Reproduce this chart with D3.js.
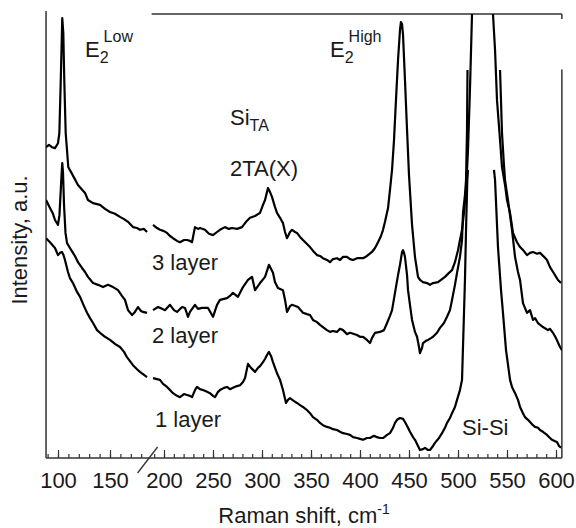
<!DOCTYPE html>
<html>
<head>
<meta charset="UTF-8">
<title>Raman spectra</title>
<script src="https://d3js.org/d3.v7.min.js"></script>
<style>
    body { margin: 0; background: #fff; }
    svg { display: block; font-family: "Liberation Sans", Arial, sans-serif; }
    .lbl { font-size: 22px; fill: #1a1a1a; }
    .small { font-size: 16px; fill: #1a1a1a; }
    .spec { fill: none; stroke: #000; stroke-width: 2.2; stroke-linejoin: round; }
    .tick text { font-size: 22px; fill: #1a1a1a; font-family: "Liberation Sans", Arial, sans-serif; }
    .tick line { stroke: #333; stroke-width: 1.2; }
</style>
</head>
<body>
<div id="chart"></div>
<script>
// [Raman shift cm-1, intensity a.u.] ; null = trace cut off
// part below the axis break
const spec3Low = [[88.5,70.0],[91.3,70.5],[94.2,70.0],[97.1,69.8],[100.0,70.9],[101.3,73.2],[102.6,84.5],[103.6,94.1],[104.1,99.1],[105.1,95.7],[106.1,84.5],[107.4,73.2],[109.9,65.5],[113.5,64.0],[119.2,61.5],[126.0,59.7],[128.8,58.1],[133.7,57.4],[140.4,57.0],[145.2,56.1],[150.0,55.4],[154.8,55.0],[159.6,54.3],[163.5,53.8],[167.3,53.2],[172.1,52.0],[176.0,51.8],[178.8,51.4],[182.7,51.6],[185.6,50.9]];
const spec2Low = [[88.5,58.1],[92.3,56.3],[95.2,55.0],[97.1,53.6],[100.0,52.5],[101.4,54.7],[102.4,59.2],[103.4,63.7],[104.1,66.4],[104.8,64.4],[105.8,57.0],[107.2,50.7],[108.7,48.4],[111.5,47.3],[114.4,46.2],[116.3,45.5],[119.2,44.1],[123.1,42.8],[126.0,41.9],[128.8,40.8],[133.7,39.4],[138.5,39.0],[143.3,38.5],[148.1,39.0],[152.9,38.5],[157.7,37.8],[161.5,36.5],[164.4,35.6],[167.3,33.3],[171.2,32.2],[174.0,32.9],[176.9,34.0],[179.8,33.1],[181.7,32.9],[185.6,32.7]];
const spec1Low = [[88.5,49.5],[92.3,48.6],[97.1,47.3],[100.0,45.7],[101.9,46.2],[103.8,46.4],[105.3,45.7],[106.7,44.6],[109.6,41.9],[111.5,40.5],[114.4,39.4],[118.3,37.4],[121.2,36.3],[125.0,34.2],[127.9,32.7],[130.8,31.5],[133.7,30.4],[137.5,28.8],[140.4,28.2],[145.2,27.3],[150.0,26.6],[154.8,25.7],[159.6,25.0],[163.5,23.9],[166.3,22.7],[169.2,21.8],[172.1,20.9],[176.0,20.0],[178.8,19.4],[182.7,18.7],[185.6,18.2]];

// part above the axis break
const spec3High = [[188.8,52.5],[192.9,51.8],[195.9,51.4],[200.0,51.1],[203.1,50.7],[206.1,50.0],[209.2,49.5],[213.3,48.9],[216.3,48.6],[220.4,49.1],[223.5,49.1],[226.5,48.9],[228.6,48.6],[231.6,52.0],[234.7,51.6],[236.7,51.8],[241.8,51.4],[245.9,50.5],[250.0,50.2],[254.1,50.9],[257.1,51.4],[262.2,52.0],[266.3,51.6],[269.4,51.8],[274.5,51.6],[279.6,52.0],[283.7,53.2],[287.8,54.1],[292.9,54.5],[298.0,55.2],[301.0,57.0],[303.1,58.1],[306.1,60.8],[308.2,59.9],[310.2,58.8],[313.3,56.5],[315.3,55.2],[318.4,54.1],[321.4,52.9],[323.5,50.9],[325.5,49.5],[328.6,50.9],[330.6,51.4],[333.7,50.9],[335.7,50.7],[338.8,49.8],[341.8,49.1],[345.9,48.2],[349.0,47.5],[353.1,46.4],[356.1,45.7],[359.2,45.5],[362.2,45.0],[366.3,44.6],[369.4,44.1],[372.4,44.8],[376.5,45.0],[379.6,44.6],[382.7,45.3],[386.7,45.3],[389.8,44.8],[392.9,44.6],[397.0,45.0],[403.1,45.0],[407.1,45.5],[412.2,46.4],[415.3,47.3],[418.4,48.6],[421.4,50.0],[423.5,51.4],[425.5,53.2],[428.6,56.3],[430.6,60.4],[432.7,64.9],[434.7,71.6],[436.7,80.6],[438.8,89.6],[440.8,96.4],[441.8,98.2],[442.9,97.7],[443.9,95.3],[445.9,85.1],[448.0,73.9],[450.0,63.7],[453.1,52.5],[456.1,45.3],[459.2,40.8],[461.2,40.1],[464.3,39.6],[468.4,39.4],[471.4,39.0],[474.5,39.4],[479.6,39.6],[483.7,40.3],[486.7,40.8],[490.8,41.7],[493.9,42.3],[496.9,44.1],[500.0,46.8],[502.0,49.1],[504.1,51.4],[506.1,55.2],[508.2,60.4],[510.2,69.4],[512.2,82.9],[514.3,100.0],[515.3,110.0],[535.0,110.0],[535.7,100.0],[537.8,91.9],[539.8,80.6],[542.9,71.6],[544.9,65.5],[548.0,61.5],[550.0,58.1],[553.1,55.2],[556.1,50.7],[560.2,48.6],[563.3,47.5],[567.3,46.6],[570.4,45.7],[573.5,46.2],[576.5,46.4],[580.6,46.0],[583.7,46.2],[587.8,45.3],[590.8,44.6],[593.9,43.0],[597.0,41.9],[599.0,41.2],[602.0,40.1],[605.1,39.4]];
const spec2High = [[188.8,33.3],[193.9,34.0],[198.0,33.6],[201.0,33.3],[206.1,34.5],[210.2,33.3],[213.3,32.9],[218.4,34.0],[221.4,33.8],[224.5,31.8],[226.5,32.9],[231.6,34.5],[234.7,33.6],[238.8,33.8],[244.9,33.8],[250.0,31.8],[254.1,34.5],[257.1,35.6],[264.3,36.0],[267.3,36.5],[270.4,37.2],[275.5,36.3],[280.6,38.5],[285.7,40.1],[289.8,40.8],[292.9,37.8],[298.0,39.4],[303.1,40.8],[307.1,43.5],[311.2,41.7],[313.3,39.6],[316.3,38.3],[321.4,37.8],[323.5,35.6],[325.5,32.9],[328.6,34.2],[330.6,34.5],[336.7,34.0],[341.8,32.7],[345.9,32.4],[349.0,32.2],[352.0,31.1],[356.1,30.6],[359.2,30.0],[362.2,29.5],[366.3,28.8],[369.4,28.4],[372.4,28.6],[376.5,28.4],[379.6,29.1],[382.7,28.8],[386.7,27.9],[389.8,28.2],[396.9,27.7],[400.0,27.3],[403.1,27.3],[407.1,26.6],[410.2,25.9],[412.2,27.0],[415.3,28.2],[420.4,28.4],[424.5,28.8],[427.6,30.4],[430.6,32.0],[432.7,33.3],[435.7,37.2],[438.8,41.2],[440.8,43.5],[442.9,46.4],[443.9,46.8],[444.9,46.2],[445.9,45.3],[448.0,41.2],[449.0,37.8],[451.0,34.5],[453.1,31.1],[456.1,28.4],[458.2,27.3],[460.2,25.0],[461.2,23.6],[463.3,24.8],[464.3,25.9],[467.3,26.4],[469.4,26.6],[472.4,27.0],[474.5,27.3],[478.6,28.2],[481.6,29.3],[485.7,30.4],[488.8,31.8],[491.8,33.3],[493.9,35.6],[496.9,39.0],[499.0,41.7],[502.0,45.3],[504.1,49.1],[505.1,55.2],[507.1,59.2],[508.2,62.6],[509.2,73.9],[509.7,87.4],null,[542.9,87.4],[544.9,73.2],[546.9,66.0],[548.0,62.6],[551.0,58.1],[555.1,51.4],[558.2,45.3],[561.2,41.9],[563.3,40.1],[566.3,34.9],[570.4,32.7],[573.5,33.3],[576.5,31.1],[578.6,31.5],[581.6,30.4],[586.7,29.5],[591.8,28.8],[593.9,29.1],[596.9,28.2],[600.0,27.0],[604.1,25.0],[606.1,24.3]];
const spec1High = [[188.8,18.0],[195.9,17.6],[199.0,16.7],[203.1,16.0],[206.1,15.3],[209.2,14.6],[213.3,14.0],[216.3,13.7],[220.4,14.4],[223.5,14.2],[226.5,14.0],[228.6,13.7],[231.6,15.3],[233.7,16.0],[236.7,15.5],[239.8,15.3],[243.9,14.9],[246.9,14.6],[250.0,14.0],[252.0,13.7],[255.1,14.9],[257.1,15.3],[261.2,15.8],[264.3,16.0],[267.3,15.5],[270.4,15.8],[274.5,16.2],[277.6,16.4],[280.6,17.1],[282.7,18.0],[285.7,21.2],[288.8,20.3],[292.9,19.4],[295.9,20.3],[298.0,20.7],[301.0,21.6],[303.1,22.3],[305.1,23.2],[307.1,23.9],[309.2,23.0],[311.2,21.6],[313.3,20.3],[315.3,19.1],[318.4,17.6],[321.4,15.3],[324.5,12.4],[326.5,13.1],[328.6,13.5],[332.7,12.8],[335.7,12.4],[338.8,11.9],[341.8,11.5],[345.9,10.8],[349.0,10.1],[352.0,9.2],[356.1,8.6],[359.2,7.9],[362.2,7.4],[366.3,7.0],[369.4,6.8],[372.4,6.5],[376.5,6.3],[379.6,5.9],[382.7,5.6],[386.7,5.4],[389.8,5.2],[392.9,4.7],[396.9,4.5],[400.0,4.3],[403.1,4.1],[407.1,4.5],[410.2,4.5],[414.3,5.0],[417.3,4.7],[420.4,4.5],[423.5,4.5],[427.6,5.2],[430.6,5.6],[433.7,6.8],[435.7,7.9],[437.8,8.6],[440.8,9.0],[443.9,8.8],[445.9,8.1],[449.0,6.8],[451.0,5.9],[454.1,4.7],[456.1,4.1],[459.2,2.7],[461.2,1.8],[464.3,2.0],[466.3,2.3],[469.4,1.8],[471.4,1.8],[474.5,2.7],[476.5,3.4],[480.6,4.5],[483.7,5.6],[486.7,6.8],[488.8,7.9],[491.8,9.0],[493.9,10.1],[496.9,11.5],[499.0,13.1],[502.0,15.3],[504.1,17.6],[505.6,28.8],[507.1,40.1],[508.2,51.4],[509.5,62.6],[510.2,64.9],null,[536.7,64.9],[537.8,62.6],[540.8,47.5],[543.9,37.8],[545.9,32.7],[549.0,24.3],[553.1,17.6],[555.1,16.0],[558.2,14.6],[561.2,13.1],[563.3,11.5],[566.3,10.1],[568.4,9.2],[571.4,8.6],[573.5,8.1],[576.5,7.4],[578.6,7.0],[581.6,6.8],[583.7,6.3],[586.7,5.9],[590.8,5.2],[593.9,4.5],[596.0,4.1],[599.0,3.8],[601.0,3.6],[603.1,2.7],[605.1,2.3]];

const layers = ["3 layer", "2 layer", "1 layer"];
const lowTicks = [100, 150];
const highTicks = [200, 250, 300, 350, 400, 450, 500, 550, 600];

// size
const W = 576, H = 528;
const svg = d3.select("#chart").append("svg")
    .attr("width", W)
    .attr("height", H);

// two x scales, the axis is broken near 190 cm-1
const xLow = d3.scaleLinear().domain([100, 150]).range([58, 110]);
const xHigh = d3.scaleLinear().domain([200, 600]).range([164, 556]);
const y = d3.scaleLinear().domain([0, 100]).range([458, 14]);

const x0 = xLow(88.5), x1 = xHigh(606), yb = y(0), yt = y(100);

svg.append("clipPath").attr("id", "plot")
    .append("rect")
    .attr("x", x0).attr("y", yt)
    .attr("width", x1 - x0).attr("height", yb - yt);

// frame
const frame = svg.append("g").attr("stroke", "#333").attr("stroke-width", 1.5);
frame.append("line").attr("x1", x0).attr("x2", x0).attr("y1", yt - 3).attr("y2", yb);
frame.append("line").attr("x1", x0).attr("x2", x1).attr("y1", yb).attr("y2", yb);
frame.append("line").attr("x1", xLow(190)).attr("x2", x1).attr("y1", yt).attr("y2", yt);
frame.append("line").attr("x1", x1).attr("x2", x1).attr("y1", yt).attr("y2", yt + 5);
frame.append("line").attr("x1", x1).attr("x2", x1).attr("y1", y(87.5)).attr("y2", yb);

// ticks (point inwards)
function tickAxis(scale, minor, major) {
    svg.append("g")
        .attr("transform", `translate(0,${yb})`)
        .call(d3.axisBottom(scale).tickValues(minor).tickSize(-4).tickFormat(""))
        .call(g => g.select(".domain").remove());
    svg.append("g")
        .attr("transform", `translate(0,${yb})`)
        .call(d3.axisBottom(scale).tickValues(major).tickSize(-8).tickPadding(14))
        .call(g => g.select(".domain").remove());
}
tickAxis(xLow, d3.range(90, 181, 10), lowTicks);
tickAxis(xHigh, d3.range(190, 601, 10), highTicks);

// break mark
svg.append("line")
    .attr("x1", xLow(190) - 14).attr("y1", yb + 15)
    .attr("x2", xLow(190) + 6).attr("y2", yb - 11)
    .attr("stroke", "#333").attr("stroke-width", 1.3);

// spectra
const lineLow = d3.line().defined(d => d).x(d => xLow(d[0])).y(d => y(d[1]));
const lineHigh = d3.line().defined(d => d).x(d => xHigh(d[0])).y(d => y(d[1]));
const g = svg.append("g").attr("clip-path", "url(#plot)");
[spec3Low, spec2Low, spec1Low].forEach(s => g.append("path").attr("class", "spec").attr("d", lineLow(s)));
[spec3High, spec2High, spec1High].forEach(s => g.append("path").attr("class", "spec").attr("d", lineHigh(s)));

// axis titles
svg.append("text").attr("class", "lbl")
    .attr("x", 304).attr("y", 523)
    .attr("text-anchor", "middle")
    .html('Raman shift, cm<tspan font-size="14" dy="-9">-1</tspan>');

svg.append("text").attr("class", "lbl")
    .attr("transform", "translate(27,240) rotate(-90)")
    .attr("text-anchor", "middle")
    .text("Intensity, a.u.");

// peak labels
function peak(xp, yp, main, sub, sup) {
    const t = svg.append("text").attr("class", "lbl").attr("x", xp).attr("y", yp);
    t.append("tspan").text(main);
    t.append("tspan").attr("font-size", 16).attr("dy", 6).text(sub);
    if (sup) {
        const w = t.node().getComputedTextLength();
        svg.append("text").attr("class", "small")
            .attr("x", xp + w - 5).attr("y", yp - 15).text(sup);
    }
}
peak(85, 57, "E", "2", "Low");
peak(330, 57, "E", "2", "High");
peak(230, 125, "Si", "TA", null);

svg.append("text").attr("class", "lbl").attr("x", 230).attr("y", 176).text("2TA(X)");

const layerPos = [[152, 270], [152, 343], [155, 427]];
layers.forEach((name, i) => {
    svg.append("text").attr("class", "lbl")
        .attr("x", layerPos[i][0]).attr("y", layerPos[i][1]).text(name);
});
svg.append("text").attr("class", "lbl").attr("x", 462).attr("y", 435).text("Si-Si");
</script>
</body>
</html>
